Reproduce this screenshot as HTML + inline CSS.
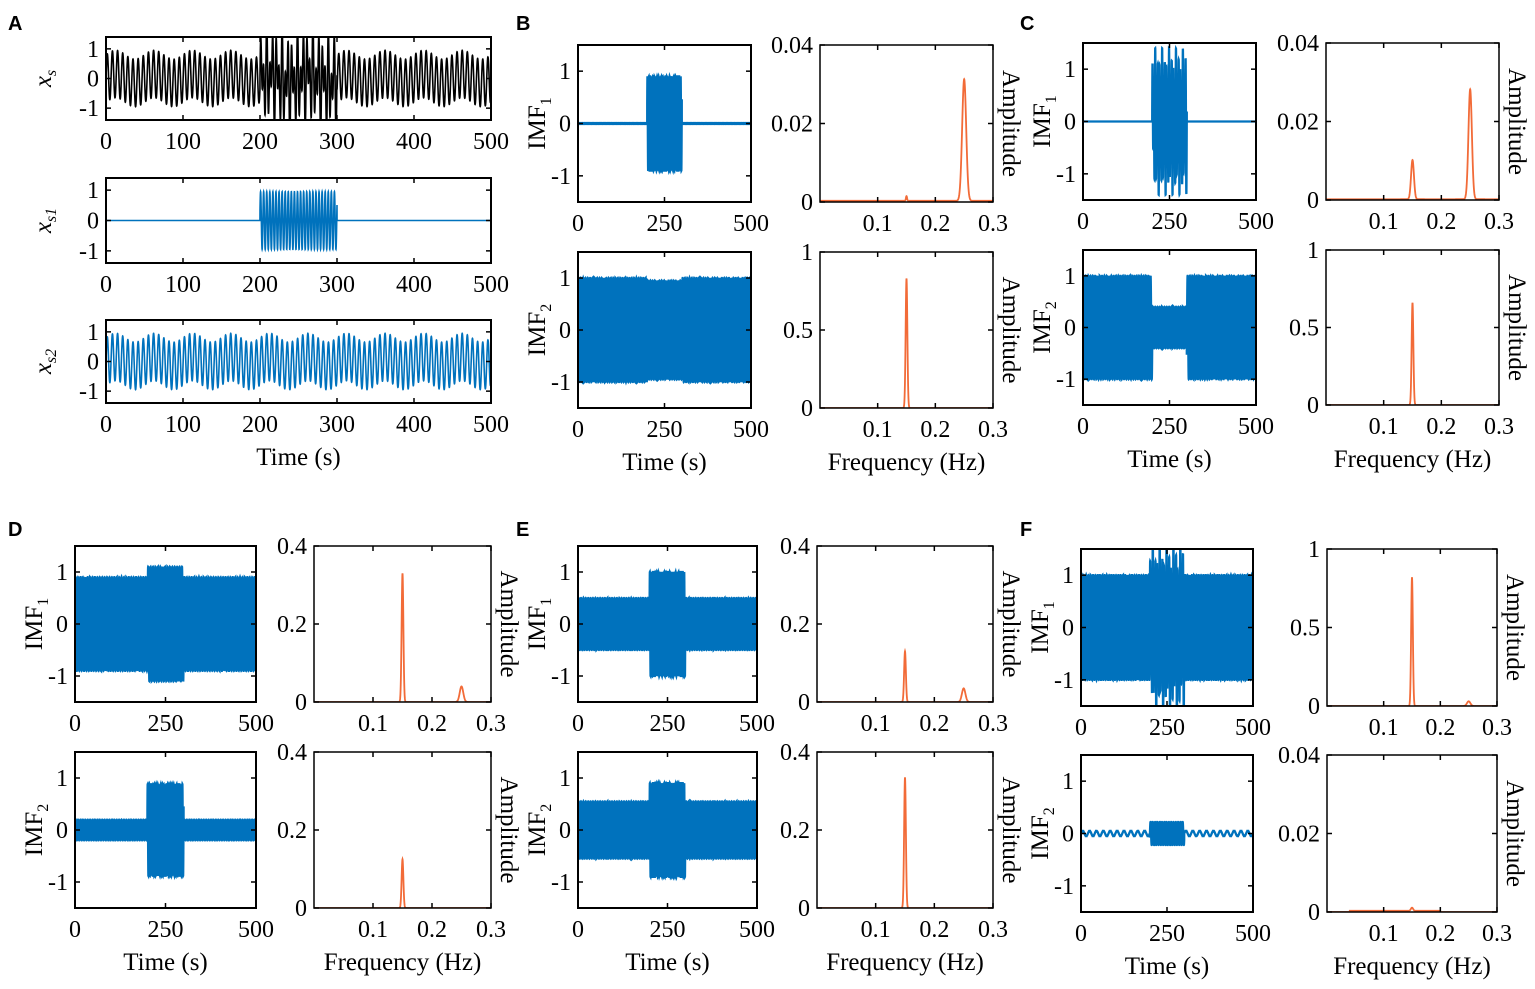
<!DOCTYPE html>
<html><head><meta charset="utf-8"><style>
html,body{margin:0;padding:0;background:#fff}
svg text{font-family:"Liberation Serif",serif;fill:#000}
</style></head><body>
<svg id="s" width="1535" height="984" xmlns="http://www.w3.org/2000/svg">
<text x="8" y="30" style="font-family:'Liberation Sans',sans-serif;font-weight:bold;font-size:20px">A</text>
<text x="516" y="30" style="font-family:'Liberation Sans',sans-serif;font-weight:bold;font-size:20px">B</text>
<text x="1020" y="30" style="font-family:'Liberation Sans',sans-serif;font-weight:bold;font-size:20px">C</text>
<text x="8" y="536" style="font-family:'Liberation Sans',sans-serif;font-weight:bold;font-size:20px">D</text>
<text x="516" y="536" style="font-family:'Liberation Sans',sans-serif;font-weight:bold;font-size:20px">E</text>
<text x="1020" y="536" style="font-family:'Liberation Sans',sans-serif;font-weight:bold;font-size:20px">F</text>
</svg>
<script>
const S=document.getElementById('s');const NS='http://www.w3.org/2000/svg';
function el(t,a,txt){const e=document.createElementNS(NS,t);for(const k in a)e.setAttribute(k,a[k]);if(txt!==undefined)e.textContent=txt;S.appendChild(e);return e;}
let cid=0;
const TAU=2*Math.PI;
function axes(o){
 const {x0,y0,x1,y1,xr,yr,xt,yt,sw}=o;
 const X=v=>x0+(v-xr[0])/(xr[1]-xr[0])*(x1-x0);
 const Y=v=>y1-(v-yr[0])/(yr[1]-yr[0])*(y1-y0);
 cid++;const cp=el('clipPath',{id:'c'+cid});
 const r=document.createElementNS(NS,'rect');r.setAttribute('x',x0);r.setAttribute('y',y0);r.setAttribute('width',x1-x0);r.setAttribute('height',y1-y0);cp.appendChild(r);
 if(o.f){let pts=[];const N=o.N||20011;for(let i=0;i<=N;i++){const t=xr[0]+(xr[1]-xr[0])*i/N;pts.push(X(t).toFixed(2)+','+Y(o.f(t)).toFixed(2));}
  el('polyline',{points:pts.join(' '),fill:'none',stroke:o.col,'stroke-width':o.lw||1.3,'clip-path':'url(#c'+cid+')'});}
 el('rect',{x:x0,y:y0,width:x1-x0,height:y1-y0,fill:'none',stroke:'#000','stroke-width':sw||2});
 for(const [v,l] of xt){const x=X(v);el('line',{x1:x,y1:y1,x2:x,y2:y1-5,stroke:'#000','stroke-width':1.5});el('line',{x1:x,y1:y0,x2:x,y2:y0+5,stroke:'#000','stroke-width':1.5});
  el('text',{x:x,y:y1+29,'text-anchor':'middle','font-size':24},l);}
 for(const [v,l] of yt){const y=Y(v);el('line',{x1:x0,y1:y,x2:x0+5,y2:y,stroke:'#000','stroke-width':1.5});el('line',{x1:x1,y1:y,x2:x1-5,y2:y,stroke:'#000','stroke-width':1.5});
  el('text',{x:x0-7,y:y+8,'text-anchor':'end','font-size':24},l);}
 if(o.xl)el('text',{x:(x0+x1)/2,y:y1+62,'text-anchor':'middle','font-size':25},o.xl);
 if(o.amp){const xx=x1+10,yy=(y0+y1)/2;el('text',{x:xx,y:yy,'text-anchor':'middle','font-size':25,transform:`rotate(90 ${xx} ${yy})`},'Amplitude');}
 if(o.yl){const xx=x0-(o.ylo||33),yy=(y0+y1)/2;const t=el('text',{x:xx,y:yy,'text-anchor':'middle','font-size':25,transform:`rotate(-90 ${xx} ${yy})`});t.innerHTML=o.yl;}
}
const f15=0.1497,f25=0.2503;
const s15=t=>Math.sin(TAU*f15*t),s25=t=>Math.sin(TAU*f25*t),slow=t=>Math.sin(TAU*0.02*t);
const inw=t=>t>=200&&t<=300;
const TX=[[0,'0'],[250,'250'],[500,'500']];
const FX=[[0.1,'0.1'],[0.2,'0.2'],[0.3,'0.3']];
const BLUE='#0072BD',OR='#F26B38';
function pk(f,c,h,w){return h*Math.exp(-((f-c)*(f-c))/(2*w*w));}
function time(x0,y0,x1,y1,f,yl,xl){axes({x0,y0,x1,y1,xr:[0,500],yr:[-1.5,1.5],xt:TX,yt:[[1,'1'],[0,'0'],[-1,'-1']],f,col:BLUE,yl,xl,lw:2.3});}
function freq(x0,y0,x1,y1,ymax,yt,f,xl){axes({x0,y0,x1,y1,xr:[0,0.3],yr:[0,ymax],xt:FX,yt,f,col:OR,sw:1.5,N:1500,lw:1.8,amp:1,xl});}
const IMF1='IMF<tspan font-size="16" dy="6">1</tspan>',IMF2='IMF<tspan font-size="16" dy="6">2</tspan>';
// Panel A
const AX=[[0,'0'],[100,'100'],[200,'200'],[300,'300'],[400,'400'],[500,'500']];
const AY=[[1,'1'],[0,'0'],[-1,'-1']];
axes({x0:106,y0:37,x1:491,y1:120,xr:[0,500],yr:[-1.4,1.4],xt:AX,yt:AY,col:'#000',N:6000,lw:1.6,f:t=>0.8*s15(t)+0.15*slow(t)+(inw(t)?1.0*s25(t):0),ylo:55,yl:'<tspan font-style="italic">x</tspan><tspan font-size="16" dy="5" font-style="italic">s</tspan>'});
axes({x0:106,y0:178,x1:491,y1:263,xr:[0,500],yr:[-1.4,1.4],xt:AX,yt:AY,col:BLUE,N:6000,lw:1.6,f:t=>inw(t)?0.95*s25(t):0,ylo:55,yl:'<tspan font-style="italic">x</tspan><tspan font-size="16" dy="5" font-style="italic">s1</tspan>'});
axes({x0:106,y0:320,x1:491,y1:403,xr:[0,500],yr:[-1.4,1.4],xt:AX,yt:AY,col:BLUE,N:6000,lw:1.6,f:t=>0.8*s15(t)+0.15*slow(t),ylo:55,yl:'<tspan font-style="italic">x</tspan><tspan font-size="16" dy="5" font-style="italic">s2</tspan>',xl:'Time (s)'});
// B
time(578,45,751,202,t=>inw(t)?0.9*s25(t):0.008*s25(t),IMF1);
freq(820,45,993,202,0.04,[[0.04,'0.04'],[0.02,'0.02'],[0,'0']],f=>0.0003+pk(f,0.25,0.031,0.0035)+pk(f,0.15,0.0012,0.001));
time(578,252,751,408,t=>(inw(t)?0.95:1.0)*s15(t),IMF2,'Time (s)');
freq(820,252,993,408,1,[[1,'1'],[0.5,'0.5'],[0,'0']],f=>pk(f,0.15,0.83,0.0015),'Frequency (Hz)');
// C
time(1083,43,1256,200,t=>inw(t)?0.5*s15(t)+0.9*s25(t):0,IMF1);
freq(1326,43,1499,200,0.04,[[0.04,'0.04'],[0.02,'0.02'],[0,'0']],f=>0.0002+pk(f,0.15,0.01,0.0025)+pk(f,0.25,0.028,0.003));
time(1083,250,1256,405,t=>(inw(t)?0.4:1.0)*s15(t),IMF2,'Time (s)');
freq(1326,250,1499,405,1,[[1,'1'],[0.5,'0.5'],[0,'0']],f=>pk(f,0.15,0.66,0.0015),'Frequency (Hz)');
// D
time(75,546,256,702,t=>(inw(t)?1.1:0.9)*s15(t),IMF1);
freq(314,546,491,702,0.4,[[0.4,'0.4'],[0.2,'0.2'],[0,'0']],f=>pk(f,0.15,0.33,0.0015)+pk(f,0.25,0.04,0.003));
time(75,752,256,908,t=>inw(t)?0.88*s25(t):0.2*s15(t),IMF2,'Time (s)');
freq(314,752,491,908,0.4,[[0.4,'0.4'],[0.2,'0.2'],[0,'0']],f=>pk(f,0.15,0.125,0.0015),'Frequency (Hz)');
// E
time(578,546,757,702,t=>inw(t)?1.0*s25(t):0.5*s15(t),IMF1);
freq(817,546,993,702,0.4,[[0.4,'0.4'],[0.2,'0.2'],[0,'0']],f=>pk(f,0.15,0.13,0.0015)+pk(f,0.25,0.035,0.003));
time(578,752,757,908,t=>inw(t)?0.9*s25(t):0.55*s15(t),IMF2,'Time (s)');
freq(817,752,993,908,0.4,[[0.4,'0.4'],[0.2,'0.2'],[0,'0']],f=>pk(f,0.15,0.335,0.0015),'Frequency (Hz)');
// F
time(1081,549,1253,706,t=>inw(t)?0.8*s15(t)+0.9*s25(t):1.0*s15(t),IMF1);
freq(1327,549,1497,706,1,[[1,'1'],[0.5,'0.5'],[0,'0']],f=>pk(f,0.15,0.82,0.0015)+pk(f,0.25,0.03,0.003));
time(1081,755,1253,912,t=>inw(t)?0.22*s15(t):0.05*Math.sin(TAU*0.05*t),IMF2,'Time (s)');
freq(1327,755,1497,912,0.04,[[0.04,'0.04'],[0.02,'0.02'],[0,'0']],f=>(f>0.04&&f<0.2?0.0003:0)+pk(f,0.15,0.0008,0.002),'Frequency (Hz)');
</script>
</body></html>
